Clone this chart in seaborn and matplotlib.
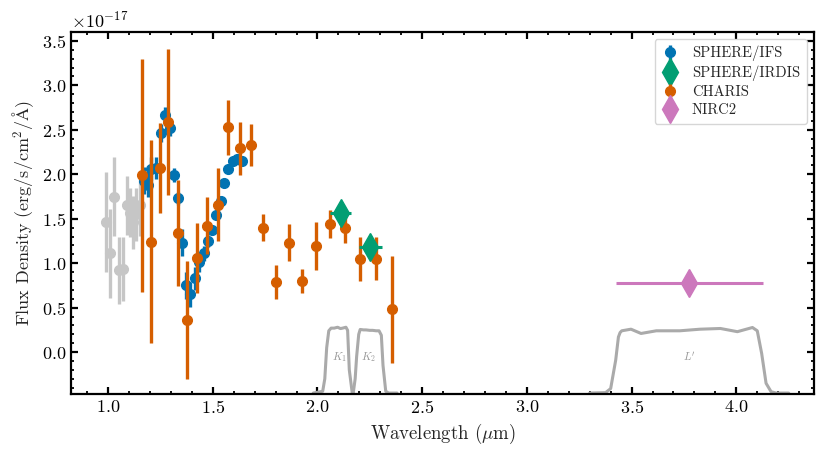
import numpy as np
import pandas as pd
import matplotlib
matplotlib.use("Agg")
import matplotlib.pyplot as plt
from matplotlib.ticker import MultipleLocator, AutoMinorLocator
import seaborn as sns

SCALE = 1e-17

# ---- SPHERE/IFS channels excluded (gray) ----
gray_wave = [0.990, 1.011, 1.030, 1.054, 1.070, 1.090, 1.106, 1.117, 1.133, 1.153]
gray_flux = [1.46, 1.11, 1.75, 0.92, 0.94, 1.65, 1.57, 1.46, 1.55, 1.65]
gray_err = [0.56, 0.50, 0.44, 0.38, 0.36, 0.33, 0.28, 0.30, 0.30, 0.34]

# ---- SPHERE/IFS ----
ifs_wave = [1.172, 1.191, 1.207, 1.227, 1.251, 1.272, 1.294, 1.314, 1.335, 1.354,
            1.374, 1.393, 1.414, 1.435, 1.457, 1.475, 1.498, 1.517, 1.539, 1.556,
            1.575, 1.596, 1.615, 1.638]
ifs_flux = [1.93, 1.88, 2.06, 2.07, 2.46, 2.67, 2.52, 1.99, 1.73, 1.23,
            0.75, 0.65, 0.83, 1.01, 1.11, 1.25, 1.37, 1.54, 1.70, 1.90,
            2.06, 2.15, 2.17, 2.15]
ifs_err = [0.15, 0.14, 0.13, 0.12, 0.10, 0.09, 0.09, 0.08, 0.07, 0.15,
           0.15, 0.14, 0.13, 0.11, 0.08, 0.07, 0.05, 0.04, 0.04, 0.03,
           0.03, 0.03, 0.03, 0.03]

# ---- SPHERE/IRDIS ----
irdis_wave = [2.110, 2.251]
irdis_flux = [1.56, 1.18]
irdis_werr = [0.05, 0.055]

# ---- CHARIS ----
charis_wave = [1.164, 1.204, 1.246, 1.287, 1.333, 1.377, 1.425, 1.472, 1.523, 1.575,
               1.628, 1.682, 1.741, 1.800, 1.863, 1.926, 1.994, 2.060, 2.133, 2.205,
               2.278, 2.357]
charis_flux = [1.99, 1.24, 2.07, 2.59, 1.34, 0.36, 1.06, 1.42, 1.66, 2.53,
               2.29, 2.33, 1.40, 0.79, 1.23, 0.80, 1.19, 1.44, 1.40, 1.05,
               1.05, 0.48]
charis_err = [1.31, 1.14, 0.51, 0.82, 0.60, 0.66, 0.39, 0.32, 0.41, 0.31,
              0.30, 0.24, 0.15, 0.19, 0.21, 0.14, 0.27, 0.16, 0.17, 0.25,
              0.24, 0.60]

# ---- NIRC2 ----
nirc2_wave = [3.776]
nirc2_flux = [0.78]
nirc2_werr = [0.352]

# ---- filter transmission curves (drawn in flux units) ----
k1_wave = [1.98, 2.025, 2.035, 2.044, 2.054, 2.065, 2.080, 2.096, 2.110, 2.120, 2.136, 2.144, 2.152, 2.165, 2.172]
k1_curve = [-0.46, -0.44, -0.30, 0.05, 0.24, 0.27, 0.27, 0.28, 0.265, 0.27, 0.28, 0.245, -0.20, -0.44, -0.46]
k2_wave = [2.165, 2.172, 2.180, 2.187, 2.197, 2.204, 2.220, 2.232, 2.250, 2.264, 2.280, 2.294, 2.305, 2.313, 2.326, 2.340, 2.380]
k2_curve = [-0.46, -0.44, -0.30, -0.05, 0.20, 0.255, 0.25, 0.25, 0.245, 0.245, 0.24, 0.24, 0.19, -0.15, -0.44, -0.46, -0.46]
lp_wave = [3.300, 3.376, 3.400, 3.424, 3.437, 3.445, 3.453, 3.497, 3.545, 3.618, 3.730, 3.827, 3.924, 4.005,
           4.077, 4.100, 4.121, 4.142, 4.166, 4.190, 4.250]
lp_curve = [-0.46, -0.455, -0.41, -0.09, 0.17, 0.22, 0.24, 0.258, 0.21, 0.24, 0.24, 0.258, 0.266, 0.23,
            0.277, 0.24, -0.015, -0.35, -0.445, -0.46, -0.46]
filter_names = ["$K_1$", "$K_2$", "$L'$"]
filter_label_wave = [2.103, 2.245, 3.776]
filter_label_y = [-0.06, -0.06, -0.06]

sns.set_theme(style="ticks")
plt.rcParams.update({
    "font.family": ["serif"],
    "font.serif": ["cmr10"],
    "mathtext.fontset": "cm",
    "axes.formatter.use_mathtext": True,
    "axes.unicode_minus": True,
    "axes.linewidth": 1.6,
    "axes.edgecolor": "black",
    "xtick.direction": "in",
    "ytick.direction": "in",
    "xtick.top": True,
    "ytick.right": True,
    "xtick.major.size": 5,
    "ytick.major.size": 5,
    "xtick.minor.size": 2.5,
    "ytick.minor.size": 2.5,
    "xtick.major.width": 1.6,
    "ytick.major.width": 1.6,
    "xtick.minor.width": 1.3,
    "ytick.minor.width": 1.3,
    "xtick.color": "black",
    "ytick.color": "black",
})

blue, green, orange, pink = "#0173b2", "#029e73", "#d55e00", "#cc78bc"
gray_pts = "#c6c6c6"
gray_filter = "#aaaaaa"

fig = plt.figure(figsize=(8.3, 4.57), dpi=100)
ax = fig.add_axes([0.0855, 0.138, 0.895, 0.792])

# filter curves
for w, c in [(k1_wave, k1_curve), (k2_wave, k2_curve), (lp_wave, lp_curve)]:
    df = pd.DataFrame({"wave": w, "flux": np.array(c) * SCALE})
    sns.lineplot(data=df, x="wave", y="flux", sort=False, estimator=None,
                 color=gray_filter, lw=2.2, ax=ax, zorder=1)
for name, xw, yv in zip(filter_names, filter_label_wave, filter_label_y):
    ax.text(xw, yv * SCALE, name, color="#999999", fontsize=8, ha="center", va="center")

ms = 7
elw = 2.4
ax.errorbar(gray_wave, np.array(gray_flux) * SCALE, yerr=np.array(gray_err) * SCALE,
            fmt="o", color=gray_pts, ms=ms, elinewidth=elw, capsize=0, zorder=2)
ax.errorbar(ifs_wave, np.array(ifs_flux) * SCALE, yerr=np.array(ifs_err) * SCALE,
            fmt="o", color=blue, ms=ms, elinewidth=elw, capsize=0, zorder=3, label="SPHERE/IFS")
ax.errorbar(irdis_wave, np.array(irdis_flux) * SCALE, xerr=irdis_werr,
            fmt="d", color=green, ms=14, elinewidth=2.2, capsize=0, zorder=5, label="SPHERE/IRDIS")
ax.errorbar(charis_wave, np.array(charis_flux) * SCALE, yerr=np.array(charis_err) * SCALE,
            fmt="o", color=orange, ms=ms, elinewidth=elw, capsize=0, zorder=4, label="CHARIS")
ax.errorbar(nirc2_wave, np.array(nirc2_flux) * SCALE, xerr=nirc2_werr,
            fmt="d", color=pink, ms=14, elinewidth=2.2, capsize=0, zorder=5, label="NIRC2")

ax.set_xlim(0.823, 4.37)
ax.set_ylim(-0.47 * SCALE, 3.6 * SCALE)
ax.xaxis.set_major_locator(MultipleLocator(0.5))
ax.xaxis.set_minor_locator(AutoMinorLocator(5))
ax.yaxis.set_major_locator(MultipleLocator(0.5 * SCALE))
ax.yaxis.set_minor_locator(AutoMinorLocator(5))
ax.tick_params(axis="both", which="both", direction="in", top=True, right=True, labelsize=13)
ax.yaxis.get_offset_text().set_fontsize(13)

ax.set_xlabel(r"Wavelength ($\mu$m)", fontsize=13.5)
ax.set_ylabel(r"Flux Density (erg/s/cm$^2$/$\mathrm{\AA}$)", fontsize=13)

leg = ax.legend(loc="upper right", fontsize=10.5, frameon=True, fancybox=True,
                framealpha=0.8, edgecolor="#cccccc", handlelength=1.2,
                handletextpad=0.9, labelspacing=0.3, borderpad=0.45,
                borderaxespad=0.5)

fig.savefig("out.png", dpi=100)
